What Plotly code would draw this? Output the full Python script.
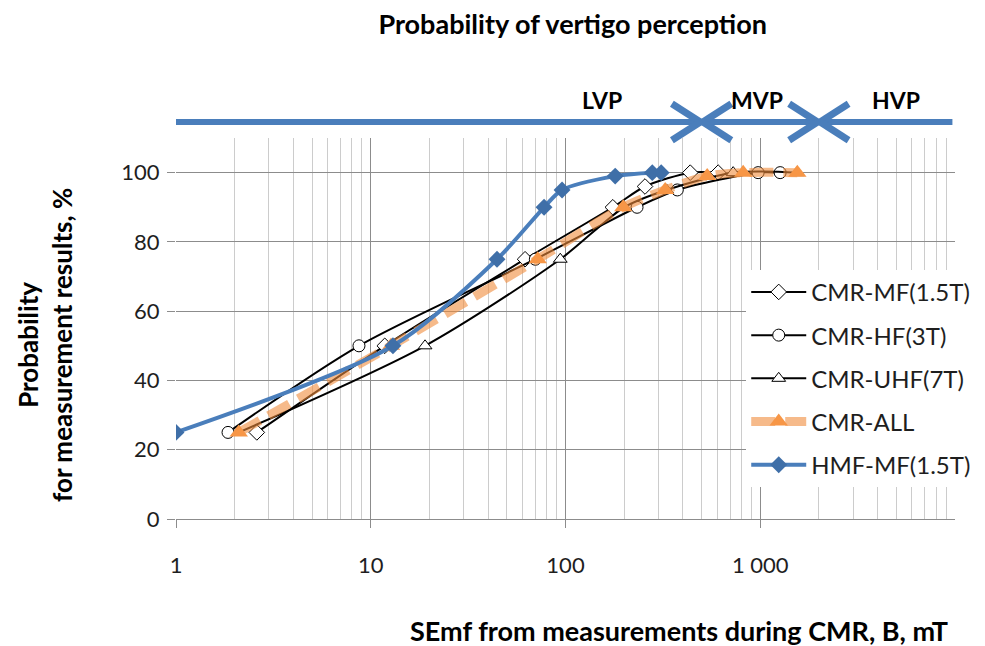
import plotly.graph_objects as go

# ---------------- data ----------------
mf_x = [2.6, 11.8, 62, 175, 256, 437, 608]
mf_y = [25, 50, 75, 90, 96, 100, 100]

hf_x = [1.85, 8.7, 70, 233, 375, 975, 1265]
hf_y = [25, 50, 75, 90, 95, 100, 100]

uhf_x = [2.1, 19, 94, 200, 330, 726, 1550]
uhf_y = [25, 50, 75, 90, 95, 100, 100]

all_x = [2.1, 12.7, 72, 198, 325, 534, 817, 1550]
all_y = [25, 50, 75, 90, 95, 99, 100, 100]

hmf_x = [1, 13, 44.5, 77.6, 96, 180, 279, 310]
hmf_y = [25, 50, 75, 90, 95, 99, 100, 100]

series_names = ["CMR-MF(1.5T)", "CMR-HF(3T)", "CMR-UHF(7T)", "CMR-ALL", "HMF-MF(1.5T)"]

x_tickvals = [1, 10, 100, 1000]
x_ticktext = ["1", "10", "100", "1 000"]

zone_bounds = [500, 2000]          # LVP | MVP | HVP boundaries, mT
zone_labels = ["LVP", "MVP", "HVP"]

FONT = "Lato"
TXT = "#1e1e1e"
BLUE = "#4a7ebb"

fig = go.Figure()

def black_series(x, y, name, symbol):
    fig.add_trace(go.Scatter(
        x=x, y=y, name=name, mode="lines+markers", legendgroup=name,
        line=dict(color="black", width=2, shape="spline", smoothing=0.8),
        marker=dict(symbol=symbol, size=12, color="white",
                    line=dict(color="black", width=1)),
    ))

black_series(mf_x, mf_y, series_names[0], "diamond")
black_series(hf_x, hf_y, series_names[1], "circle")
black_series(uhf_x, uhf_y, series_names[2], "triangle-up")

fig.add_trace(go.Scatter(
    x=all_x, y=all_y, name=series_names[3], mode="lines+markers", legendgroup=series_names[3],
    line=dict(color="rgba(240,140,60,0.6)", width=9, dash="24px,10px", shape="spline", smoothing=0.8),
    marker=dict(symbol="triangle-up", size=16, color="#f79646"),
))

fig.add_trace(go.Scatter(
    x=hmf_x, y=hmf_y, name=series_names[4], mode="lines+markers", legendgroup=series_names[4],
    line=dict(color=BLUE, width=4, shape="spline", smoothing=0.8),
    marker=dict(symbol="diamond", size=13, color="#3f6fa8"),
))

# ---------------- zone arrows above the plot ----------------
y_line = 1.042
d_y = 0.048
k = 1.40  # horizontal extent of chevron arms (factor on log axis)
shapes = [dict(type="line", xref="x", yref="paper", x0=1, x1=9700, y0=y_line, y1=y_line,
               line=dict(color=BLUE, width=6))]
for b in zone_bounds:
    tip_r = b * 0.985
    tip_l = b * 1.015
    for s in (1, -1):
        shapes.append(dict(type="line", xref="x", yref="paper",
                           x0=tip_r / k, y0=y_line + s * d_y, x1=tip_r, y1=y_line,
                           line=dict(color=BLUE, width=7)))
        shapes.append(dict(type="line", xref="x", yref="paper",
                           x0=tip_l * k, y0=y_line + s * d_y, x1=tip_l, y1=y_line,
                           line=dict(color=BLUE, width=7)))

annotations = []
for lab, xp in zip(zone_labels, [0.547, 0.746, 0.924]):
    annotations.append(dict(text=f"<b>{lab}</b>", xref="paper", yref="paper", x=xp, y=1.10,
                            xanchor="center", yanchor="middle", showarrow=False,
                            font=dict(family=FONT, size=23, color="black")))

annotations.append(dict(text="<b>SEmf from measurements during CMR, B, mT</b>",
                        xref="paper", yref="paper", x=0.646, y=-0.292,
                        xanchor="center", yanchor="middle", showarrow=False,
                        font=dict(family=FONT, size=27, color="black")))
annotations.append(dict(text="<b>Probability<br>for measurement results, %</b>",
                        xref="paper", yref="paper", x=-0.168, y=0.457,
                        xanchor="center", yanchor="middle", showarrow=False,
                        textangle=-90, font=dict(family=FONT, size=26, color="black")))

minor_vals = [m * 10 ** d for d in range(4) for m in range(2, 10)]

fig.update_layout(
    width=977, height=638,
    margin=dict(l=168, r=30, t=130, b=127, autoexpand=False),
    paper_bgcolor="white", plot_bgcolor="white",
    font=dict(family=FONT, size=22, color=TXT),
    title=dict(text="<b>Probability of vertigo perception</b>", x=0.578, xanchor="center",
               y=0.9734, yanchor="middle", font=dict(family=FONT, size=27, color="black")),
    showlegend=True,
    legend=dict(x=0.732, y=0.654, xanchor="left", yanchor="top", bgcolor="white",
                font=dict(family=FONT, size=24, color=TXT), itemwidth=55,
                tracegroupgap=9, traceorder="grouped"),
    shapes=shapes,
    annotations=annotations,
    xaxis=dict(type="log", range=[0, 4], tickvals=x_tickvals, ticktext=x_ticktext,
               showgrid=True, gridcolor="#8c8c8c", gridwidth=1,
               ticks="outside", ticklen=8, tickcolor="#8c8c8c", ticklabelstandoff=19,
               showline=True, linecolor="#8c8c8c", zeroline=False,
               minor=dict(tickvals=minor_vals, showgrid=True, gridcolor="#cccccc", ticks=""),
               tickfont=dict(family=FONT, size=22, color=TXT)),
    yaxis=dict(range=[0, 110], tick0=0, dtick=20, showgrid=True, gridcolor="#8c8c8c",
               ticks="outside", ticklen=8, tickcolor="#8c8c8c", ticklabelstandoff=3,
               zeroline=False, showline=False,
               tickfont=dict(family=FONT, size=22, color=TXT)),
)

fig.write_html("out.html")
